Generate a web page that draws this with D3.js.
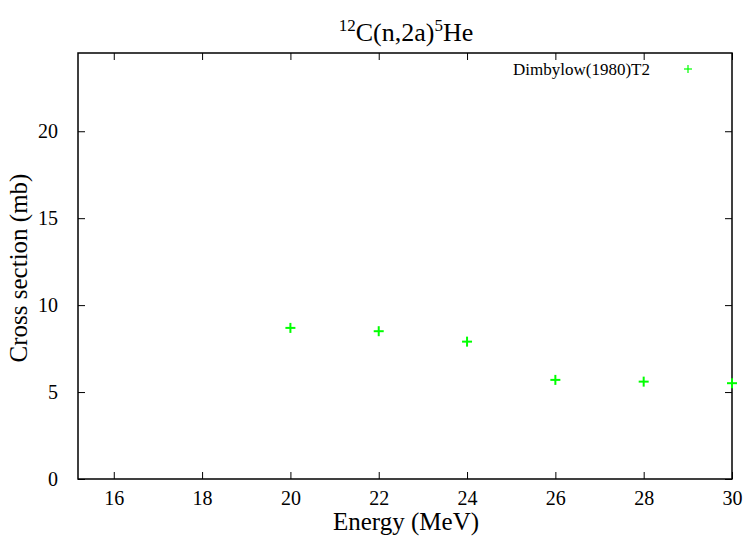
<!DOCTYPE html>
<html><head><meta charset="utf-8">
<script src="https://cdn.jsdelivr.net/npm/d3@7"></script>
<style>body{margin:0;background:#fff}svg{display:block}svg text{font-family:"Liberation Serif","Times New Roman","DejaVu Serif",serif !important;fill:#000}</style>
</head><body>
<svg id="c" width="748" height="540"></svg>
<script>
const energies = [20, 22, 24, 26, 28, 30];
const crossSections = [8.69, 8.50, 7.90, 5.70, 5.60, 5.51];
const xTicks = [16, 18, 20, 22, 24, 26, 28, 30];
const yTicks = [0, 5, 10, 15, 20];
const seriesName = "Dimbylow(1980)T2";

const FONT = "Liberation Serif, Times New Roman, serif";
const svg = d3.select("#c");
const L = 78, R = 732, T = 53, B = 479;
const x = d3.scaleLinear().domain([15.19, 30]).range([L, R]);
const y = d3.scaleLinear().domain([0, 24.5]).range([B, T]);
const tl = 7;

// frame
svg.append("rect").attr("x", L).attr("y", T).attr("width", R - L).attr("height", B - T)
  .attr("fill", "none").attr("stroke", "#000").attr("stroke-width", 1.5);

// x ticks (bottom + top mirror)
const xa = svg.append("g").attr("transform", `translate(0,${B})`)
  .call(d3.axisBottom(x).tickValues(xTicks).tickSize(-tl).tickPadding(12).tickFormat(d3.format("d")));
xa.attr("font-family", FONT);
xa.select(".domain").remove();
xa.selectAll("line").attr("stroke", "#000");
xa.selectAll("text").attr("font-size", 20).attr("font-family", FONT).attr("dy", "0.71em");
const xt = svg.append("g").attr("transform", `translate(0,${T})`)
  .call(d3.axisTop(x).tickValues(xTicks).tickSize(-tl).tickFormat(""));
xt.select(".domain").remove();
xt.selectAll("line").attr("stroke", "#000");

// y ticks (left + right mirror)
const ya = svg.append("g").attr("transform", `translate(${L},0)`)
  .call(d3.axisLeft(y).tickValues(yTicks).tickSize(-tl).tickPadding(20).tickFormat(d3.format("d")));
ya.attr("font-family", FONT);
ya.select(".domain").remove();
ya.selectAll("line").attr("stroke", "#000");
ya.selectAll("text").attr("font-size", 20).attr("font-family", FONT);
const yr = svg.append("g").attr("transform", `translate(${R},0)`)
  .call(d3.axisRight(y).tickValues(yTicks).tickSize(-tl).tickFormat(""));
yr.select(".domain").remove();
yr.selectAll("line").attr("stroke", "#000");

// points
const s = 5;
const pts = svg.append("g").attr("stroke", "#00ff00").attr("stroke-width", 2);
energies.forEach((e, i) => {
  const px = x(e), py = y(crossSections[i]);
  pts.append("line").attr("x1", px - s).attr("x2", px + s).attr("y1", py).attr("y2", py);
  pts.append("line").attr("x1", px).attr("x2", px).attr("y1", py - s).attr("y2", py + s);
});

// legend
svg.append("text").attr("x", 650).attr("y", 75).attr("text-anchor", "end").attr("font-family", FONT)
  .attr("font-size", 17).text(seriesName);
const lg = svg.append("g").attr("stroke", "#00ff00").attr("stroke-width", 1.2);
lg.append("line").attr("x1", 684).attr("x2", 692).attr("y1", 69).attr("y2", 69);
lg.append("line").attr("x1", 688).attr("x2", 688).attr("y1", 65).attr("y2", 73);

// title
const title = svg.append("text").attr("x", 406).attr("y", 41).attr("text-anchor", "middle")
  .attr("font-family", FONT).attr("font-size", 26);
title.append("tspan").attr("font-size", 17).attr("dy", -10).text("12");
title.append("tspan").attr("dy", 10).text("C(n,2a)");
title.append("tspan").attr("font-size", 17).attr("dy", -10).text("5");
title.append("tspan").attr("dy", 10).text("He");

// axis titles
svg.append("text").attr("x", 406).attr("y", 530).attr("text-anchor", "middle").attr("font-family", FONT)
  .attr("font-size", 25).text("Energy (MeV)");
svg.append("text").attr("transform", "translate(27,268) rotate(-90)").attr("text-anchor", "middle")
  .attr("font-family", FONT).attr("font-size", 25).text("Cross section (mb)");
</script>
</body></html>
